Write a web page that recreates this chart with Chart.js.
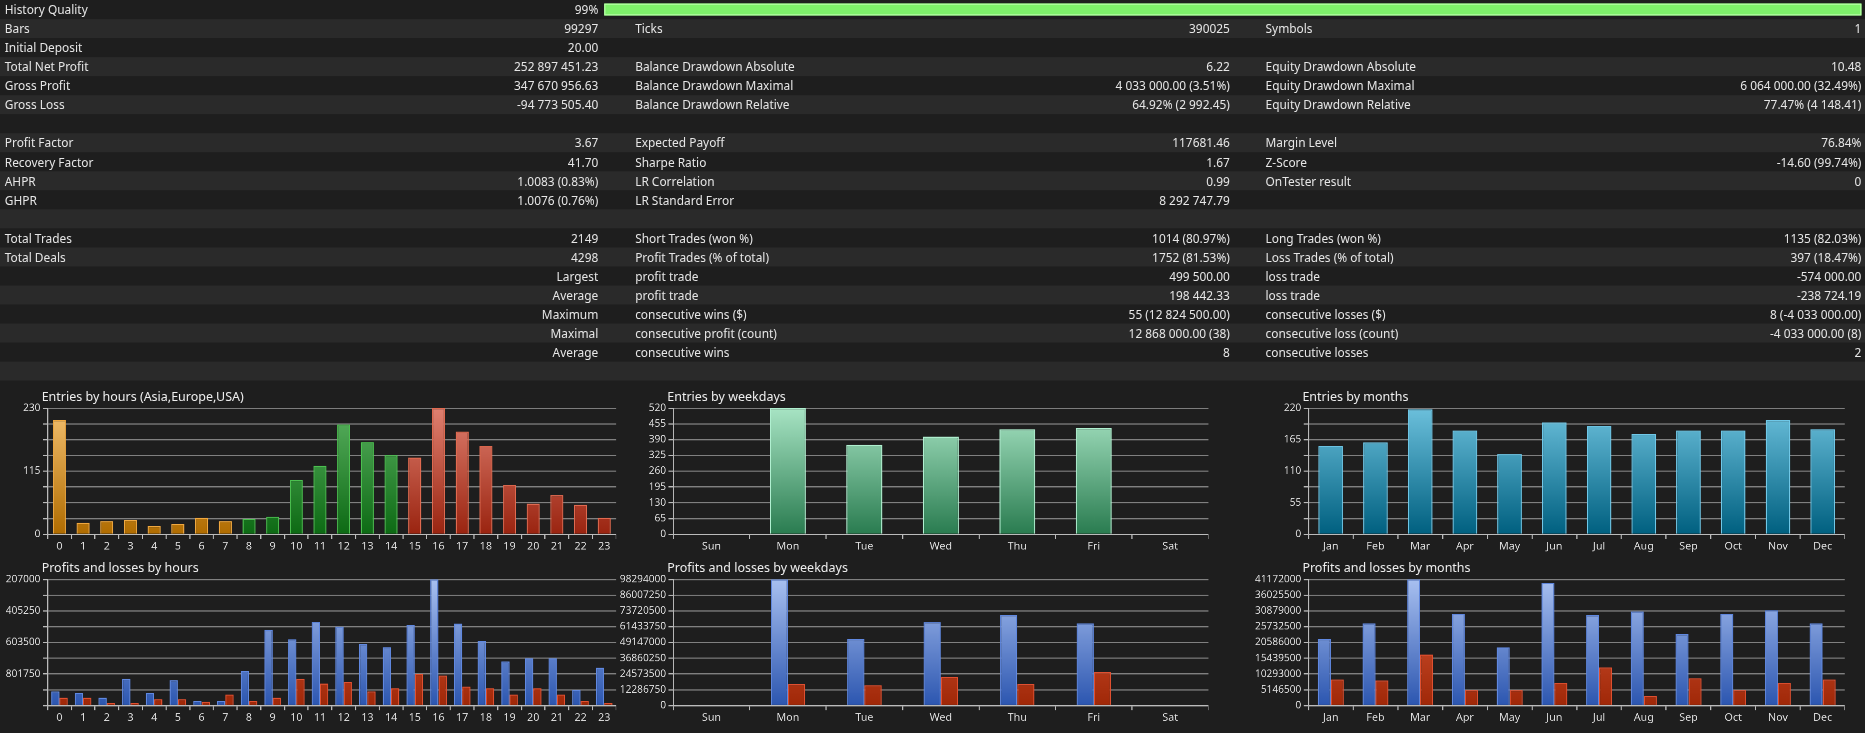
<!DOCTYPE html>
<html>
<head>
<meta charset="utf-8">
<script src="https://cdn.jsdelivr.net/npm/chart.js@4"></script>
<style>
  html, body { margin: 0; padding: 0; background: #1e1e1e; overflow: hidden; }
  #wrap { position: absolute; left: 0; top: 0; width: 1568px; height: 616px; transform: scale(1.18941); transform-origin: 0 0; font-family: "Noto Sans", "Open Sans", sans-serif; color: #e6e6e6; font-size: 10px; }
  .row { position: absolute; left: 0; width: 1568px; height: 16px; line-height: 16px; }
  .row.odd { background: #2a2a2a; }
  .c { position: absolute; top: 0; white-space: nowrap; }
  .r { text-align: right; }
  .title { position: absolute; font-size: 10.5px; color: #eee; }
  canvas { position: absolute; }
  #hq { position: absolute; left: 508px; top: 3px; width: 1057px; height: 10px; background: #7ef06a; border: 1px solid #b8ffa8; box-sizing: border-box; }
</style>
</head>
<body>
<div id="wrap"></div>
<script>
// ---- report table ----
const tableRows = [
  ['History Quality', '99%', '', '', '', ''],
  ['Bars', '99297', 'Ticks', '390025', 'Symbols', '1'],
  ['Initial Deposit', '20.00', '', '', '', ''],
  ['Total Net Profit', '252 897 451.23', 'Balance Drawdown Absolute', '6.22', 'Equity Drawdown Absolute', '10.48'],
  ['Gross Profit', '347 670 956.63', 'Balance Drawdown Maximal', '4 033 000.00 (3.51%)', 'Equity Drawdown Maximal', '6 064 000.00 (32.49%)'],
  ['Gross Loss', '-94 773 505.40', 'Balance Drawdown Relative', '64.92% (2 992.45)', 'Equity Drawdown Relative', '77.47% (4 148.41)'],
  ['', '', '', '', '', ''],
  ['Profit Factor', '3.67', 'Expected Payoff', '117681.46', 'Margin Level', '76.84%'],
  ['Recovery Factor', '41.70', 'Sharpe Ratio', '1.67', 'Z-Score', '-14.60 (99.74%)'],
  ['AHPR', '1.0083 (0.83%)', 'LR Correlation', '0.99', 'OnTester result', '0'],
  ['GHPR', '1.0076 (0.76%)', 'LR Standard Error', '8 292 747.79', '', ''],
  ['', '', '', '', '', ''],
  ['Total Trades', '2149', 'Short Trades (won %)', '1014 (80.97%)', 'Long Trades (won %)', '1135 (82.03%)'],
  ['Total Deals', '4298', 'Profit Trades (% of total)', '1752 (81.53%)', 'Loss Trades (% of total)', '397 (18.47%)'],
  ['>Largest', '', 'profit trade', '499 500.00', 'loss trade', '-574 000.00'],
  ['>Average', '', 'profit trade', '198 442.33', 'loss trade', '-238 724.19'],
  ['>Maximum', '', 'consecutive wins ($)', '55 (12 824 500.00)', 'consecutive losses ($)', '8 (-4 033 000.00)'],
  ['>Maximal', '', 'consecutive profit (count)', '12 868 000.00 (38)', 'consecutive loss (count)', '-4 033 000.00 (8)'],
  ['>Average', '', 'consecutive wins', '8', 'consecutive losses', '2'],
  ['', '', '', '', '', '']
]

// ---- chart data ----
const hourLabels = ['0','1','2','3','4','5','6','7','8','9','10','11','12','13','14','15','16','17','18','19','20','21','22','23']
const hourEntries = [208, 21, 24, 26, 15, 19, 30, 24, 28, 32, 99, 125, 200, 168, 144, 140, 230, 187, 161, 90, 56, 71, 54, 30]
const dayLabels = ['Sun', 'Mon', 'Tue', 'Wed', 'Thu', 'Fri', 'Sat']
const dayEntries = [0, 520, 369, 403, 433, 437, 0]
const monthLabels = ['Jan','Feb','Mar','Apr','May','Jun','Jul','Aug','Sep','Oct','Nov','Dec']
const monthEntries = [154, 160, 218, 181, 140, 195, 189, 175, 181, 181, 199, 183]

// hours P/L in axis units (8 grid steps), labels as printed by the tester
const hourProfit = [0.9, 0.8, 0.5, 1.7, 0.8, 1.6, 0.3, 0.3, 2.2, 4.8, 4.2, 5.3, 5.0, 3.9, 3.7, 5.1, 8.0, 5.2, 4.1, 2.8, 3.0, 3.0, 1.0, 2.4]
const hourLoss = [0.5, 0.5, 0.15, 0.15, 0.4, 0.4, 0.25, 0.7, 0.3, 0.5, 1.7, 1.4, 1.5, 0.9, 1.1, 2.0, 1.9, 1.2, 1.1, 0.7, 1.1, 0.7, 0.3, 0.15]
const hourTickText = { 8: '207000', 6: '405250', 4: '603500', 2: '801750' }

const dayProfit = [0, 98294000, 51900000, 64900000, 70500000, 64000000, 0]
const dayLoss = [0, 16700000, 15800000, 22300000, 16700000, 26000000, 0]
const monthProfit = [21750000, 26800000, 41172000, 29900000, 19000000, 40000000, 29500000, 30700000, 23300000, 29900000, 31100000, 26800000]
const monthLoss = [8500000, 8200000, 16700000, 5000000, 5000000, 7400000, 12400000, 3100000, 8900000, 5000000, 7400000, 8500000]

const wrap = document.getElementById('wrap')

tableRows.forEach((r, i) => {
  const row = document.createElement('div')
  row.className = 'row' + (i % 2 ? ' odd' : '')
  row.style.top = (i * 16) + 'px'
  const label = r[0]
  let html = ''
  if (label.startsWith('>')) {
    html += `<span class="c r" style="right:${1568 - 503}px">${label.slice(1)}</span>`
  } else {
    html += `<span class="c" style="left:4px">${label}</span>`
  }
  html += `<span class="c r" style="right:${1568 - 503}px">${r[1]}</span>`
  html += `<span class="c" style="left:534px">${r[2]}</span>`
  html += `<span class="c r" style="right:${1568 - 1034}px">${r[3]}</span>`
  html += `<span class="c" style="left:1064px">${r[4]}</span>`
  html += `<span class="c r" style="right:${1568 - 1565}px">${r[5]}</span>`
  row.innerHTML = html
  wrap.appendChild(row)
})
const hq = document.createElement('div')
hq.id = 'hq'
wrap.appendChild(hq)

function gradient (top, bottom) {
  return ctx => {
    const a = ctx.chart.chartArea
    if (!a) return bottom
    const g = ctx.chart.ctx.createLinearGradient(0, a.top, 0, a.bottom)
    g.addColorStop(0, top)
    g.addColorStop(1, bottom)
    return g
  }
}

function makeChart (opt) {
  const t = document.createElement('div')
  t.className = 'title'
  t.textContent = opt.title
  t.style.left = (opt.left + opt.axisW - 5) + 'px'
  t.style.top = (opt.top - 14) + 'px'
  wrap.appendChild(t)

  const c = document.createElement('canvas')
  c.style.left = opt.left + 'px'
  c.style.top = (opt.top - 4) + 'px'
  c.style.width = opt.width + 'px'
  c.style.height = '130px'
  c.width = opt.width
  c.height = 130
  wrap.appendChild(c)

  new Chart(c, {
    type: 'bar',
    data: { labels: opt.labels, datasets: opt.datasets },
    options: {
      responsive: false,
      animation: false,
      devicePixelRatio: 2.5,
      layout: { padding: { top: 4, right: 0, bottom: 0, left: 0 } },
      plugins: { legend: { display: false }, tooltip: { enabled: false } },
      scales: {
        x: {
          grid: { display: true, drawOnChartArea: false, offset: true, color: '#bbb', tickLength: 4 },
          border: { color: '#bbb' },
          ticks: { color: '#ddd', font: { size: 9, family: 'Noto Sans' }, padding: 1, maxRotation: 0, autoSkip: false }
        },
        y: {
          min: 0,
          max: opt.max,
          afterFit: s => { s.width = opt.axisW },
          grid: { color: '#808080', tickLength: 4, tickColor: '#bbb' },
          border: { color: '#bbb' },
          ticks: {
            stepSize: opt.max / 8,
            autoSkip: false,
            color: '#ddd',
            font: { size: 8.5, family: 'Noto Sans' },
            padding: 2,
            callback: opt.tick
          }
        }
      }
    }
  })
}

function entries (data, colors, bp) {
  return [{
    data,
    backgroundColor: ctx => gradient(colors[ctx.dataIndex][0], colors[ctx.dataIndex][1])(ctx),
    borderColor: ctx => colors[ctx.dataIndex][2],
    borderWidth: 1,
    barPercentage: bp,
    categoryPercentage: 1
  }]
}

const orange = ['#f3c070', '#b06c00', '#f0a840']
const green = ['#5ab060', '#0d6a14', '#4cc050']
const red = ['#e08070', '#9a2410', '#e06a50']
const hourColors = hourLabels.map((h, i) => i < 8 ? orange : i < 15 ? green : red)
const dayColors = dayLabels.map(() => ['#a8e4c4', '#2a7c50', '#b0f0d0'])
const monthColors = monthLabels.map(() => ['#6cc0dc', '#006080', '#70c8e8'])

function pl (profit, loss, cp) {
  return [
    { data: profit, backgroundColor: gradient('#a8c0f0', '#2c56b0'), borderColor: '#6088e0', borderWidth: 1, barPercentage: 1, categoryPercentage: cp },
    { data: loss, backgroundColor: gradient('#e06040', '#a02808'), borderColor: '#e05030', borderWidth: 1, barPercentage: 1, categoryPercentage: cp }
  ]
}

makeChart({ title: 'Entries by hours (Asia,Europe,USA)', left: 0, top: 340, width: 518, axisW: 40, labels: hourLabels, max: 230, datasets: entries(hourEntries, hourColors, 0.55), tick: (v, i) => (i % 4 === 0 ? Math.round(v) : '') })
makeChart({ title: 'Entries by weekdays', left: 530, top: 340, width: 486, axisW: 36, labels: dayLabels, max: 520, datasets: entries(dayEntries, dayColors, 0.47), tick: v => Math.round(v) })
makeChart({ title: 'Entries by months', left: 1060, top: 340, width: 491, axisW: 40, labels: monthLabels, max: 220, datasets: entries(monthEntries, monthColors, 0.55), tick: (v, i) => (i % 2 === 0 ? Math.round(v) : '') })

makeChart({ title: 'Profits and losses by hours', left: 0, top: 484, width: 518, axisW: 40, labels: hourLabels, max: 8, datasets: pl(hourProfit, hourLoss, 0.7), tick: (v, i) => hourTickText[i] || '' })
makeChart({ title: 'Profits and losses by weekdays', left: 490, top: 484, width: 526, axisW: 76, labels: dayLabels, max: 98294000, datasets: pl(dayProfit, dayLoss, 0.45), tick: v => Math.round(v) })
makeChart({ title: 'Profits and losses by months', left: 1030, top: 484, width: 521, axisW: 70, labels: monthLabels, max: 41172000, datasets: pl(monthProfit, monthLoss, 0.58), tick: v => Math.round(v) })
</script>
</body>
</html>
